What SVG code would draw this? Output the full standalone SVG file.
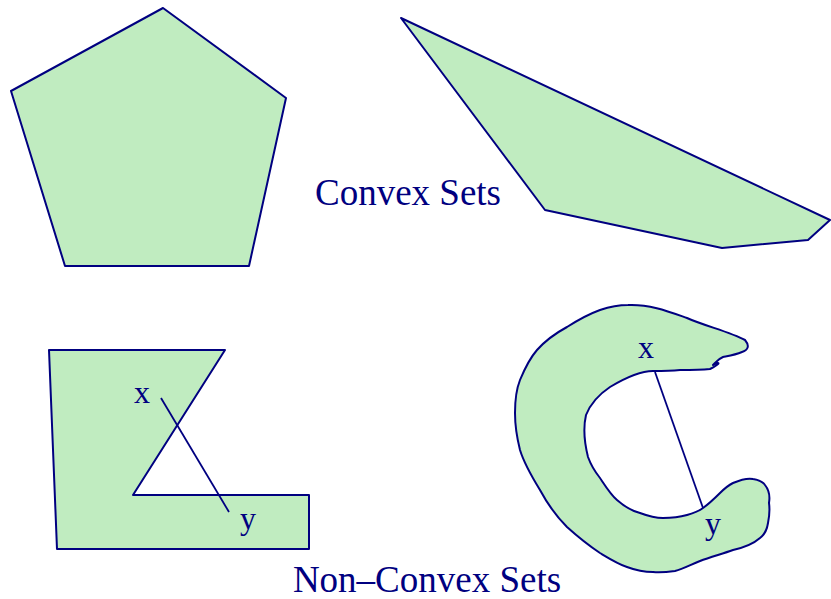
<svg xmlns="http://www.w3.org/2000/svg" width="831" height="599" viewBox="0 0 831 599">
<style>
.shape{fill:#c0ecc0;stroke:#000080;stroke-width:2;stroke-linejoin:round}
.seg{stroke:#000080;stroke-width:1.8;fill:none}
.lbl{font-family:"Liberation Serif","Times New Roman",serif;fill:#000080;font-size:37px}
.pt{font-family:"Liberation Serif","Times New Roman",serif;fill:#000080;font-size:32px}
</style>
<rect width="831" height="599" fill="#fff"/>
<g id="pentagon"><polygon class="shape" points="163,8 286,98 249,266 65,266 11,91"/></g>
<g id="wedge"><polygon class="shape" points="401,18 830,220 808,240 722,248 545,210"/></g>
<g id="lshape"><polygon class="shape" points="49,350 225,350 133,495 309,495 309,549 57,549"/></g>
<g id="cshape"><path class="shape" d="M628,305 C650,304 670,312 687,318 C705,326 730,332 745,340 C750,346 748,350 742,352 C735,355 728,356 723,357 C718,359 716,362 713,365 C715,363 720,362 718,364 C716,366 712,368 710,369 C700,370 690,370 680,370 C670,371 660,371 653,371 C640,371 625,378 610,387 C598,395 590,405 586,415 C583,428 585,445 588,457 C592,468 596,473 600,478 C606,487 611,495 617,500 C625,507 632,511 640,513 C648,516 655,518 663,518 C672,518 680,517 687,515 C694,513 699,511 703,508 C710,503 715,498 720,493 C725,488 729,485 733,483 C740,480 748,478 753,479 C759,480 763,482 765,485 C769,490 770,497 769,503 C770,510 769,518 768,523 C767,530 764,535 760,538 C752,545 742,548 733,550 C722,554 710,557 700,561 C690,565 683,569 675,571 C668,572 660,573 653,572 C645,572 635,570 627,567 C618,564 610,559 600,553 C588,545 577,536 567,527 C556,516 547,503 540,490 C532,477 524,463 520,450 C517,438 515,425 515,413 C515,402 516,390 520,380 C525,368 530,358 537,350 C545,341 556,333 567,327 C578,320 589,314 600,310 C609,307 618,305 628,305 Z"/></g>
<g id="connectors">
<line class="seg" x1="161" y1="398" x2="229" y2="512"/>
<line class="seg" x1="655" y1="372" x2="703" y2="508"/>
</g>
<g id="labels">
<text class="lbl" x="408" y="205" text-anchor="middle">Convex Sets</text>
<text class="lbl" x="427" y="592" text-anchor="middle">Non–Convex Sets</text>
<text class="pt" x="142" y="403" text-anchor="middle">x</text>
<text class="pt" x="248" y="529" text-anchor="middle">y</text>
<text class="pt" x="646" y="358" text-anchor="middle">x</text>
<text class="pt" x="713" y="534" text-anchor="middle">y</text>
</g>
</svg>
